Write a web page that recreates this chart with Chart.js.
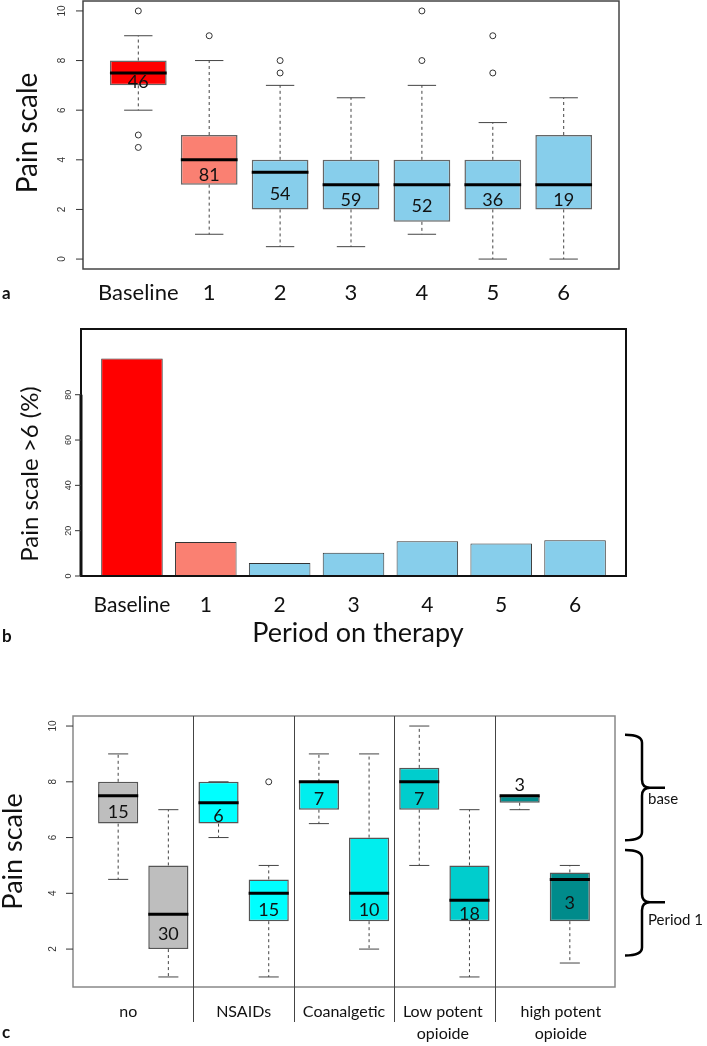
<!DOCTYPE html>
<html>
<head>
<meta charset="utf-8">
<script src="https://cdn.jsdelivr.net/npm/chart.js@4.4.1/dist/chart.umd.min.js"></script>
<style>
  html, body { margin: 0; padding: 0; background: #fff; }
  #wrap { position: relative; width: 707px; height: 1046px; }
  .panel { position: absolute; left: 0; width: 707px; }
</style>
</head>
<body>
<div id="wrap">
  <div class="panel" style="top:0;height:310px"><canvas id="chartA"></canvas></div>
  <div class="panel" style="top:310px;height:340px"><canvas id="chartB"></canvas></div>
  <div class="panel" style="top:650px;height:396px"><canvas id="chartC"></canvas></div>
</div>
<script>
// panel a - pain scale per period
const periods = ['Baseline', '1', '2', '3', '4', '5', '6'];
const periodN = [46, 81, 54, 59, 52, 36, 19];
const periodMin = [6, 1, 0.5, 0.5, 1, 0, 0];
const periodQ1 = [7, 3, 2, 2, 1.5, 2, 2];
const periodMedian = [7.5, 4, 3.5, 3, 3, 3, 3];
const periodQ3 = [8, 5, 4, 4, 4, 4, 5];
const periodMax = [9, 8, 7, 6.5, 7, 5.5, 6.5];
const periodOutliers = [[10, 5, 4.5], [9], [8, 7.5], [], [10, 8], [9, 7.5], []];
const painTicks = [0, 2, 4, 6, 8, 10];

// panel b - share of patients with pain scale > 6
const pctAbove6 = [96, 15, 5.7, 10.3, 15.3, 14.3, 15.8];
const pctTicks = [0, 20, 40, 60, 80];

// panel c - baseline vs period 1 by analgesic
const drugGroups = [['no'], ['NSAIDs'], ['Coanalgetic'], ['Low potent', 'opioide'], ['high potent', 'opioide']];
const drugN = [15, 30, 6, 15, 7, 10, 7, 18, 3, 3];
const drugMin = [4.5, 1, 6, 1, 6.5, 2, 5, 1, 7, 1.5];
const drugQ1 = [6.5, 2, 6.5, 3, 7, 3, 7, 3, 7.25, 3];
const drugMedian = [7.5, 3.25, 7.25, 4, 8, 4, 8, 3.75, 7.5, 4.5];
const drugQ3 = [8, 5, 8, 4.5, 8, 6, 8.5, 5, 7.5, 4.75];
const drugMax = [9, 7, 8, 5, 9, 9, 10, 7, 7.5, 5];
const drugOutliers = [[], [], [], [8], [], [], [], [], [], []];
const drugTicks = [2, 4, 6, 8, 10];

const periodColors = ['#ff0000', '#fa8072', '#87ceeb', '#87ceeb', '#87ceeb', '#87ceeb', '#87ceeb'];
const drugColors = ['#bebebe', '#bebebe', '#00ffff', '#00ffff', '#00eeee', '#00eeee', '#00cdcd', '#00cdcd', '#008b8b', '#008b8b'];

const FONT = 'Lato, "Open Sans", sans-serif';
const TICKFONT = '"Liberation Sans", Arial, sans-serif';

function rotatedText(ctx, text, x, y) {
  ctx.save();
  ctx.translate(x, y);
  ctx.rotate(-Math.PI / 2);
  ctx.textAlign = 'center';
  ctx.textBaseline = 'middle';
  ctx.fillText(text, 0, 0);
  ctx.restore();
}

// y axis like R: ticks on the left, labels turned
function drawYAxis(chart, ticks, o) {
  const ctx = chart.ctx, area = chart.chartArea, y = chart.scales.y;
  ctx.strokeStyle = '#333';
  ctx.fillStyle = '#333';
  ctx.lineWidth = 1;
  ctx.font = o.font;
  ticks.forEach(v => {
    const py = y.getPixelForValue(v);
    ctx.beginPath();
    ctx.moveTo(area.left - o.len, py);
    ctx.lineTo(area.left, py);
    ctx.stroke();
    rotatedText(ctx, String(v), area.left - o.offset, py);
  });
}

// whiskers, medians, outliers and n on top of the floating bars
function boxParts(s) {
  return {
    id: 'boxParts',
    afterDatasetsDraw(chart) {
      const ctx = chart.ctx, y = chart.scales.y;
      const bars = chart.getDatasetMeta(0).data;
      ctx.save();
      bars.forEach((bar, i) => {
        const cx = bar.x, half = bar.width / 2, cap = bar.width / 4;
        const yMin = y.getPixelForValue(s.min[i]);
        const yQ1 = y.getPixelForValue(s.q1[i]);
        const yMed = y.getPixelForValue(s.med[i]);
        const yQ3 = y.getPixelForValue(s.q3[i]);
        const yMax = y.getPixelForValue(s.max[i]);
        ctx.strokeStyle = '#444';
        ctx.lineWidth = 1;
        ctx.setLineDash([3, 3]);
        ctx.beginPath();
        ctx.moveTo(cx, yQ3); ctx.lineTo(cx, yMax);
        ctx.moveTo(cx, yQ1); ctx.lineTo(cx, yMin);
        ctx.stroke();
        ctx.setLineDash([]);
        ctx.beginPath();
        ctx.moveTo(cx - cap, yMax); ctx.lineTo(cx + cap, yMax);
        ctx.moveTo(cx - cap, yMin); ctx.lineTo(cx + cap, yMin);
        ctx.stroke();
        ctx.strokeStyle = '#000';
        ctx.lineWidth = 3;
        ctx.beginPath();
        ctx.moveTo(cx - half, yMed); ctx.lineTo(cx + half, yMed);
        ctx.stroke();
        ctx.strokeStyle = '#333';
        ctx.lineWidth = 1;
        s.out[i].forEach(v => {
          ctx.beginPath();
          ctx.arc(cx, y.getPixelForValue(v), 3, 0, 2 * Math.PI);
          ctx.stroke();
        });
        ctx.fillStyle = '#111';
        ctx.font = s.nFont;
        ctx.textAlign = 'center';
        ctx.textBaseline = 'middle';
        let ty = (yMed + yQ1) / 2 + 3;
        if (yQ1 - yQ3 < 20) ty = yQ3 - 11; // box too thin, put n above it
        ctx.fillText(String(s.n[i]), cx, ty);
      });
      ctx.restore();
    }
  };
}

const baseOptions = (padding, xMin, xMax, yMin, yMax, count) => ({
  responsive: true,
  maintainAspectRatio: false,
  animation: false,
  events: [],
  layout: { padding },
  plugins: { legend: { display: false }, tooltip: { enabled: false } },
  scales: {
    x: {
      type: 'linear', min: xMin, max: xMax, display: false, offset: false,
      afterBuildTicks: s => { s.ticks = Array.from({ length: count }, (_, i) => ({ value: i + 1 })); }
    },
    y: { min: yMin, max: yMax, display: false }
  }
});

// ---- a ----
new Chart(document.getElementById('chartA'), {
  type: 'bar',
  data: {
    datasets: [{
      data: periods.map((p, i) => ({ x: i + 1, y: [periodQ1[i], periodQ3[i]] })),
      backgroundColor: periodColors,
      borderColor: '#666',
      borderWidth: 1.5,
      borderSkipped: false,
      barPercentage: 0.8,
      categoryPercentage: 1
    }]
  },
  options: baseOptions({ left: 83, top: 1, right: 88, bottom: 41 }, 0.22, 7.78, -0.4, 10.4, periods.length),
  plugins: [
    boxParts({ n: periodN, min: periodMin, q1: periodQ1, med: periodMedian, q3: periodQ3, max: periodMax, out: periodOutliers, nFont: '18px ' + FONT }),
    {
      id: 'axesA',
      afterDraw(chart) {
        const ctx = chart.ctx, area = chart.chartArea, x = chart.scales.x;
        ctx.save();
        ctx.strokeStyle = '#444';
        ctx.lineWidth = 1.5;
        ctx.strokeRect(area.left, area.top, area.right - area.left, area.bottom - area.top);
        drawYAxis(chart, painTicks, { len: 7, offset: 21, font: '10px ' + TICKFONT });
        ctx.fillStyle = '#111';
        ctx.font = '22px ' + FONT;
        ctx.textAlign = 'center';
        ctx.textBaseline = 'middle';
        periods.forEach((p, i) => ctx.fillText(p, x.getPixelForValue(i + 1), 293));
        ctx.font = '28px ' + FONT;
        rotatedText(ctx, 'Pain scale', 28, 133);
        ctx.font = 'bold 17px ' + FONT;
        ctx.textAlign = 'left';
        ctx.fillText('a', 2, 294);
        ctx.restore();
      }
    }
  ]
});

// ---- b ----
new Chart(document.getElementById('chartB'), {
  type: 'bar',
  data: {
    datasets: [{
      data: periods.map((p, i) => ({ x: i + 1, y: pctAbove6[i] })),
      backgroundColor: periodColors,
      borderColor: '#333',
      borderWidth: 1,
      borderSkipped: false,
      barPercentage: 1 / 1.2,
      categoryPercentage: 1
    }]
  },
  options: baseOptions({ left: 81, top: 19, right: 81, bottom: 74 }, 0.31, 7.69, 0, 109, periods.length),
  plugins: [{
    id: 'axesB',
    afterDraw(chart) {
      const ctx = chart.ctx, area = chart.chartArea, x = chart.scales.x, y = chart.scales.y;
      ctx.save();
      ctx.strokeStyle = '#111';
      ctx.lineWidth = 2;
      ctx.strokeRect(area.left, area.top, area.right - area.left, area.bottom - area.top);
      ctx.lineWidth = 3;
      ctx.beginPath();
      ctx.moveTo(area.left, y.getPixelForValue(pctTicks[0]));
      ctx.lineTo(area.left, y.getPixelForValue(pctTicks[pctTicks.length - 1]));
      ctx.stroke();
      drawYAxis(chart, pctTicks, { len: 6, offset: 12, font: '9px ' + TICKFONT });
      ctx.fillStyle = '#111';
      ctx.font = '21px ' + FONT;
      ctx.textAlign = 'center';
      ctx.textBaseline = 'middle';
      periods.forEach((p, i) => ctx.fillText(p, x.getPixelForValue(i + 1), 295));
      ctx.font = '27px ' + FONT;
      ctx.fillText('Period on therapy', 358, 323);
      ctx.font = '24px ' + FONT;
      rotatedText(ctx, 'Pain scale >6 (%)', 30, 164);
      ctx.font = 'bold 17px ' + FONT;
      ctx.textAlign = 'left';
      ctx.fillText('b', 2, 327);
      ctx.restore();
    }
  }]
});

// ---- c ----
new Chart(document.getElementById('chartC'), {
  type: 'bar',
  data: {
    datasets: [{
      data: drugN.map((n, i) => ({ x: i + 1, y: [drugQ1[i], drugQ3[i]] })),
      backgroundColor: drugColors,
      borderColor: '#555',
      borderWidth: 1.5,
      borderSkipped: false,
      barPercentage: 0.8,
      categoryPercentage: 1
    }]
  },
  options: baseOptions({ left: 73, top: 66, right: 92, bottom: 59 }, 0.1, 10.9, 0.64, 10.36, drugN.length),
  plugins: [
    boxParts({ n: drugN, min: drugMin, q1: drugQ1, med: drugMedian, q3: drugQ3, max: drugMax, out: drugOutliers, nFont: '18px ' + FONT }),
    {
      id: 'axesC',
      afterDraw(chart) {
        const ctx = chart.ctx, area = chart.chartArea, x = chart.scales.x, y = chart.scales.y;
        ctx.save();
        ctx.strokeStyle = '#888';
        ctx.lineWidth = 1.5;
        ctx.strokeRect(area.left, area.top, area.right - area.left, area.bottom - area.top);
        // group separators, running below the frame
        ctx.strokeStyle = '#444';
        ctx.lineWidth = 1;
        [2.5, 4.5, 6.5, 8.5].forEach(v => {
          const px = Math.round(x.getPixelForValue(v)) + 0.5;
          ctx.beginPath();
          ctx.moveTo(px, area.top);
          ctx.lineTo(px, area.bottom + 35);
          ctx.stroke();
        });
        drawYAxis(chart, drugTicks, { len: 7, offset: 20, font: '10px ' + TICKFONT });
        // group names
        const labelAt = [1.2, 3.5, 5.5, 7.47, 9.82];
        ctx.fillStyle = '#111';
        ctx.font = '16px ' + FONT;
        ctx.textAlign = 'center';
        ctx.textBaseline = 'middle';
        drugGroups.forEach((g, i) => {
          g.forEach((line, j) => ctx.fillText(line, x.getPixelForValue(labelAt[i]), area.bottom + 25 + j * 22));
        });
        ctx.font = '27px ' + FONT;
        rotatedText(ctx, 'Pain scale', 13, (area.top + area.bottom) / 2);
        ctx.font = 'bold 17px ' + FONT;
        ctx.textAlign = 'left';
        ctx.fillText('c', 2, 383);
        // braces for base / period 1
        const brace = (top, bot, tip, label, labelV) => {
          const x0 = area.right + 10, xv = area.right + 27, r = 8;
          const yT = y.getPixelForValue(top), yB = y.getPixelForValue(bot), yTip = y.getPixelForValue(tip);
          ctx.strokeStyle = '#000';
          ctx.lineWidth = 2.5;
          ctx.beginPath();
          ctx.moveTo(x0, yT);
          ctx.quadraticCurveTo(xv, yT, xv, yT + r);
          ctx.lineTo(xv, yTip - r);
          ctx.quadraticCurveTo(xv, yTip, xv + r, yTip);
          ctx.lineTo(area.right + 50, yTip);
          ctx.moveTo(xv + r, yTip);
          ctx.quadraticCurveTo(xv, yTip, xv, yTip + r);
          ctx.lineTo(xv, yB - r);
          ctx.quadraticCurveTo(xv, yB, x0, yB);
          ctx.stroke();
          ctx.fillStyle = '#111';
          ctx.font = '15px ' + FONT;
          ctx.textAlign = 'left';
          ctx.fillText(label, area.right + 33, y.getPixelForValue(labelV));
        };
        brace(9.69, 5.9, 7.79, 'base', 7.37);
        brace(5.55, 1.77, 3.68, 'Period 1', 3.05);
        ctx.restore();
      }
    }
  ]
});
</script>
</body>
</html>
